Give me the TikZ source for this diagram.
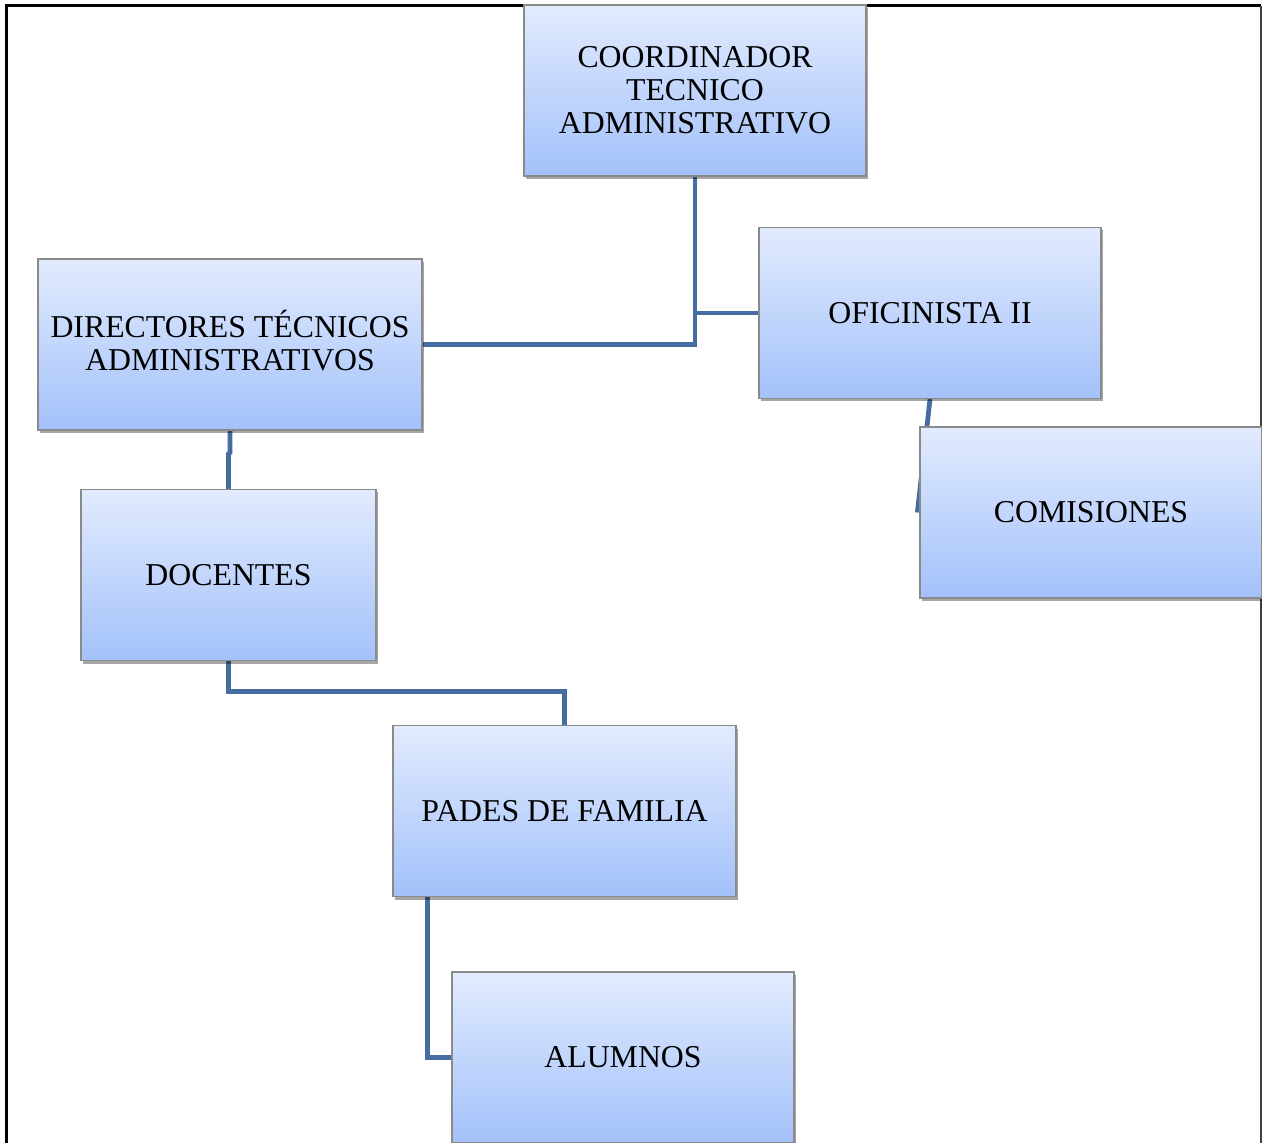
\documentclass[tikz,border=0pt]{standalone}
\usepackage{fontspec}
\setmainfont{Liberation Serif}
\usetikzlibrary{shadows,calc,backgrounds}
\definecolor{boxtop}{HTML}{E2EBFE}
\definecolor{boxbot}{HTML}{A3C1FA}
\definecolor{boxedge}{HTML}{8A8A8A}
\definecolor{linkc}{HTML}{456DA2}
\tikzset{
  orgbox/.style={draw=boxedge, line width=0.6pt, top color=boxtop, bottom color=boxbot,
    minimum height=85.5pt, align=center, inner sep=0pt,
    font=\fontsize{15.9}{16.5}\selectfont,
    drop shadow={shadow xshift=1pt, shadow yshift=-1.5pt, fill=black, opacity=0.35}},
  link/.style={draw=linkc, line width=2.4pt},
  frame/.style={line width=1.5pt, draw=black}
}
\begin{document}
\begin{tikzpicture}[x=0.5pt,y=-0.5pt]
\useasboundingbox (0,0) rectangle (1262,1143);
\draw[frame] (6,1143) -- (6,6) -- (1261,6);
\draw[line width=1pt, draw=black!75] (1261,6) -- (1261,1143);
\node[orgbox, minimum width=171pt] (coord) at (695,90.5) {COORDINADOR\\TECNICO\\ADMINISTRATIVO};
\node[orgbox, minimum width=171pt] (ofic) at (930,313) {OFICINISTA II};
\node[orgbox, minimum width=192pt] (dir) at (230,344.5) {\raisebox{1pt}{DIRECTORES T\smash{É}CNICOS}\\\raisebox{1pt}{ADMINISTRATIVOS}};
\node[orgbox, minimum width=171pt] (comis) at (1091,512.5) {COMISIONES};
\node[orgbox, minimum width=147.5pt] (doc) at (228.5,575) {DOCENTES};
\node[orgbox, minimum width=171.5pt] (pades) at (564.5,811) {PADES DE FAMILIA};
\node[orgbox, minimum width=171pt] (alum) at (623,1057.5) {ALUMNOS};
\begin{scope}[on background layer]
\draw[link] (coord.south) |- (dir.east);
\draw[link] (coord.south |- ofic.west) -- (ofic.west);
\draw[link] (ofic.south) -- ($(comis.west)+(-2,0)$);
\draw[link] (dir.south) -- ++(0,22) -- ($(doc.north)+(0,-35)$) -- (doc.north);
\draw[link] (doc.south) -- ++(0,30) -| (pades.north);
\draw[link] ($(pades.south west)+(35,0)$) |- (alum.west);
\end{scope}
\end{tikzpicture}
\end{document}
